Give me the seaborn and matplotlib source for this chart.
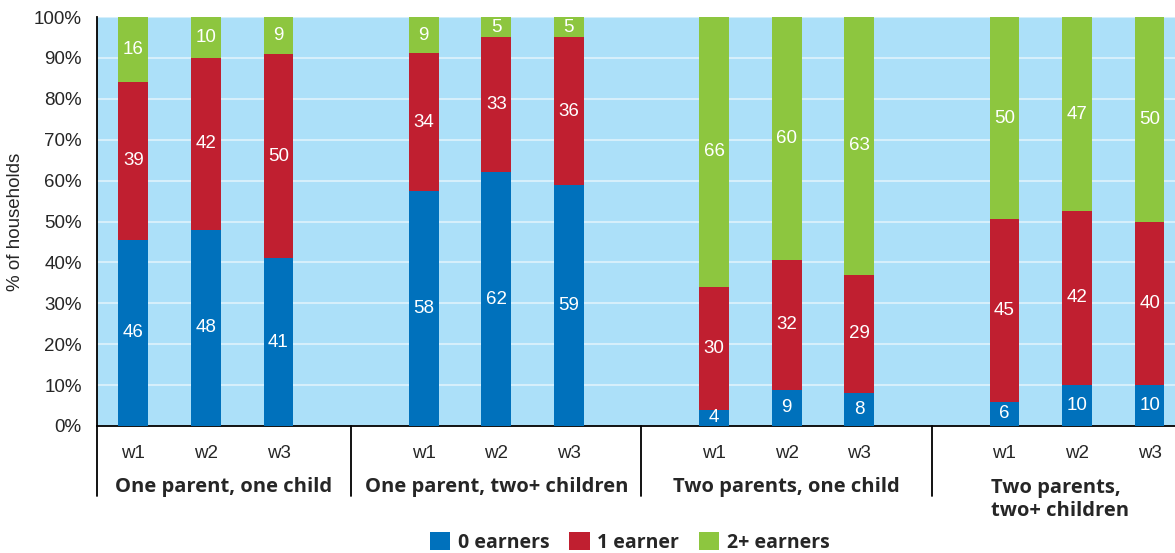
import numpy as np
import pandas as pd
import matplotlib
matplotlib.use("Agg")
import matplotlib.pyplot as plt
import matplotlib.transforms as mtransforms
from matplotlib.patches import Patch
import seaborn as sns

# data (% of households)
groups = ["One parent, one child", "One parent, two+ children",
          "Two parents, one child", "Two parents,\ntwo+ children"]
waves = ["w1", "w2", "w3"]
earners_0 = [46, 48, 41, 58, 62, 59, 4, 9, 8, 6, 10, 10]
earners_1 = [39, 42, 50, 34, 33, 36, 30, 32, 29, 45, 42, 40]
earners_2 = [16, 10, 9, 9, 5, 5, 66, 60, 63, 50, 47, 50]
series = ["0 earners", "1 earner", "2+ earners"]
colors = ["#0071BC", "#C01F30", "#8DC63F"]

# slot positions: three bars per group, one empty slot between groups
pos = [g * 4 + w for g in range(len(groups)) for w in range(len(waves))]
df = pd.DataFrame({"pos": pos, "wave": waves * len(groups),
                   "e0": earners_0, "e1": earners_1, "e2": earners_2})
tot = df[["e0", "e1", "e2"]].sum(axis=1)
df["c0"] = df["e0"] / tot * 100
df["c1"] = (df["e0"] + df["e1"]) / tot * 100
df["c2"] = 100.0

sns.set_style("white")
plt.rcParams["font.family"] = ["Liberation Sans", "DejaVu Sans"]

fig = plt.figure(figsize=(11.75, 5.53), dpi=100)
ax = fig.add_axes([97 / 1175, 1 - 426 / 553, 1 - 97 / 1175, (426 - 17) / 553])
ax.set_facecolor("#ACE0F9")

for col, c in zip(["c2", "c1", "c0"], colors[::-1]):
    sns.barplot(data=df, x="pos", y=col, native_scale=True, color=c,
                width=0.41, linewidth=0, saturation=1, ax=ax, zorder=3)

# segment labels
for _, r in df.iterrows():
    lows = [0, r["c0"], r["c1"]]
    highs = [r["c0"], r["c1"], r["c2"]]
    for v, lo, hi in zip([r["e0"], r["e1"], r["e2"]], lows, highs):
        ax.text(r["pos"], (lo + hi) / 2, f"{int(v)}", color="white",
                ha="center", va="center", fontsize=13.5, zorder=4)

ax.set_xlim(-0.5, 14.35)
ax.set_ylim(0, 100)
ax.set_yticks(range(0, 101, 10))
ax.set_yticklabels([f"{t}%" for t in range(0, 101, 10)], fontsize=13.5)
ax.yaxis.grid(True, color="#D6EFFB", linewidth=1.5, zorder=0)
ax.set_axisbelow(True)
ax.set_xticks(pos)
ax.set_xticklabels(df["wave"], fontsize=13.5)
ax.tick_params(axis="both", length=0)
ax.tick_params(axis="x", pad=14)
ax.tick_params(axis="y", pad=11)
ax.set_xlabel("")
ax.set_ylabel("% of households", fontsize=13.5, labelpad=7)
for s in ["top", "right"]:
    ax.spines[s].set_visible(False)
ax.spines["left"].set_color("black")
ax.spines["bottom"].set_color("black")
ax.spines["left"].set_linewidth(1.3)
ax.spines["bottom"].set_linewidth(1.3)

# group separators and names below the axis
trans = mtransforms.blended_transform_factory(ax.transData, ax.transAxes)
for x in [-0.5, 3, 7, 11]:
    ax.plot([x, x], [0, -0.171], color="black", lw=1.3, transform=trans,
            clip_on=False)
centers = [1.25, 5, 9, 12.76]
for i, (g, cx) in enumerate(zip(groups, centers)):
    if "\n" in g:
        ax.text(cx, -0.126, g, transform=trans, ha="center", va="top",
                multialignment="left", fontsize=14.5, fontweight="bold",
                family="Open Sans", linespacing=1.25)
    else:
        ax.text(cx, -0.149, g, transform=trans, ha="center", va="center",
                fontsize=14.5, fontweight="bold", family="Open Sans")

handles = [Patch(facecolor=c, edgecolor="none") for c in colors]
fig.legend(handles, series, loc="center", bbox_to_anchor=(0.536, 0.019),
           ncol=3, frameon=False, handlelength=1.05, handleheight=1.05,
           handletextpad=0.4, columnspacing=1.0,
           prop={"family": "Open Sans", "weight": "bold", "size": 14})

fig.savefig("out.png", dpi=100)
